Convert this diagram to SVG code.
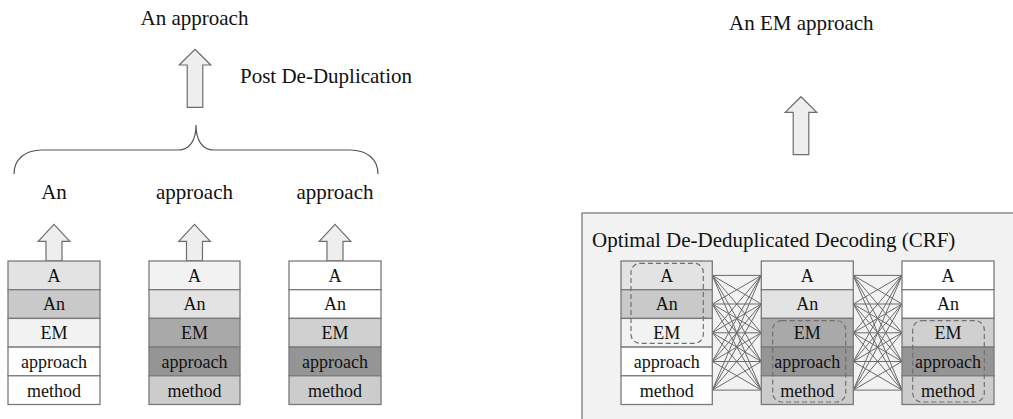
<svg xmlns="http://www.w3.org/2000/svg" width="1013" height="419" viewBox="0 0 1013 419">
  <style>
    text { font-family: "Liberation Serif", "Times New Roman", Tinos, "DejaVu Serif", "Noto Serif", serif; fill: #111; text-anchor: middle; }
    .big { font-size: 21px; }
    .cell { font-size: 18px; }
    .row { stroke: #7a7a7a; stroke-width: 1.3; }
    .arrow { fill: #eeeeee; stroke: #6e6e6e; stroke-width: 1.2; stroke-linejoin: miter; }
    .dash { fill: none; stroke: #707070; stroke-width: 1.2; stroke-dasharray: 5 3; }
    .link { stroke: #6a6a6a; stroke-width: 1; }
    .w { fill: #ffffff; } .g1 { fill: #f2f2f2; } .g2 { fill: #e3e3e3; } .g3 { fill: #c9c9c9; }
    .g4 { fill: #d0d0d0; } .g5 { fill: #a9a9a9; } .g6 { fill: #959595; } .g7 { fill: #cccccc; }
  </style>
  <defs>
    <!-- block arrow pointing up, origin at tip -->
    <path id="up" d="M0,0 L15.8,17 L8,17 L8,36.5 L-8,36.5 L-8,17 L-15.8,17 Z"/>
    <path id="upBig" d="M0,0 L15.8,15.7 L7.8,15.7 L7.8,58 L-7.8,58 L-7.8,15.7 L-15.8,15.7 Z"/>
  </defs>

  <rect width="1013" height="419" fill="#ffffff"/>

  <!-- left: post de-duplication -->
  <g id="left-output">
    <text class="big" x="194.5" y="25">An approach</text>
    <use href="#upBig" x="195" y="49.3" class="arrow"/>
    <text class="big" x="326" y="83">Post De-Duplication</text>
    <path d="M14,174 C14,160 24,150 42,150 L178,150 C190,150 196,140 196,125 C196,140 202,150 214,150 L350,150 C368,150 378,160 378,174" fill="none" stroke="#555" stroke-width="1.2"/>
    <text class="big" x="54" y="199">An</text>
    <text class="big" x="194.5" y="199">approach</text>
    <text class="big" x="335" y="199">approach</text>
  </g>

  <g id="left-stack-1">
    <use href="#up" x="54" y="224.3" class="arrow"/>
    <rect class="row g2" x="8" y="261" width="92" height="28.7"/>
    <rect class="row g3" x="8" y="289.7" width="92" height="28.7"/>
    <rect class="row g1" x="8" y="318.4" width="92" height="28.7"/>
    <rect class="row w" x="8" y="347.1" width="92" height="28.7"/>
    <rect class="row w" x="8" y="375.8" width="92" height="28.7"/>
    <text class="cell" x="54" y="281.7">A</text>
    <text class="cell" x="54" y="310.4">An</text>
    <text class="cell" x="54" y="339.1">EM</text>
    <text class="cell" x="54" y="367.8">approach</text>
    <text class="cell" x="54" y="396.5">method</text>
  </g>

  <g id="left-stack-2">
    <use href="#up" x="194.5" y="224.3" class="arrow"/>
    <rect class="row g1" x="149" y="261" width="91" height="28.7"/>
    <rect class="row g2" x="149" y="289.7" width="91" height="28.7"/>
    <rect class="row g5" x="149" y="318.4" width="91" height="28.7"/>
    <rect class="row g6" x="149" y="347.1" width="91" height="28.7"/>
    <rect class="row g7" x="149" y="375.8" width="91" height="28.7"/>
    <text class="cell" x="194.5" y="281.7">A</text>
    <text class="cell" x="194.5" y="310.4">An</text>
    <text class="cell" x="194.5" y="339.1">EM</text>
    <text class="cell" x="194.5" y="367.8">approach</text>
    <text class="cell" x="194.5" y="396.5">method</text>
  </g>

  <g id="left-stack-3">
    <use href="#up" x="335" y="224.3" class="arrow"/>
    <rect class="row w" x="289" y="261" width="92" height="28.7"/>
    <rect class="row w" x="289" y="289.7" width="92" height="28.7"/>
    <rect class="row g4" x="289" y="318.4" width="92" height="28.7"/>
    <rect class="row g6" x="289" y="347.1" width="92" height="28.7"/>
    <rect class="row g7" x="289" y="375.8" width="92" height="28.7"/>
    <text class="cell" x="335" y="281.7">A</text>
    <text class="cell" x="335" y="310.4">An</text>
    <text class="cell" x="335" y="339.1">EM</text>
    <text class="cell" x="335" y="367.8">approach</text>
    <text class="cell" x="335" y="396.5">method</text>
  </g>

  <!-- right: CRF decoding -->
  <g id="right-output">
    <text class="big" x="801.3" y="30">An EM approach</text>
    <use href="#upBig" x="801" y="96.7" class="arrow"/>
  </g>

  <g id="crf-panel">
    <rect x="582" y="213" width="440" height="220" fill="#f2f2f2" stroke="#7a7a7a" stroke-width="1.3"/>
    <text class="big" x="592" y="247" style="text-anchor:start">Optimal De-Deduplicated Decoding (CRF)</text>
  </g>

  <g id="connectors">
    <g id="links-1-2" class="link">
      <path d="M712.3,275.4 L761.3,275.4 M712.3,275.4 L761.3,304 M712.3,275.4 L761.3,332.8 M712.3,275.4 L761.3,361.5 M712.3,275.4 L761.3,390.1
               M712.3,304 L761.3,275.4 M712.3,304 L761.3,304 M712.3,304 L761.3,332.8 M712.3,304 L761.3,361.5 M712.3,304 L761.3,390.1
               M712.3,332.8 L761.3,275.4 M712.3,332.8 L761.3,304 M712.3,332.8 L761.3,332.8 M712.3,332.8 L761.3,361.5 M712.3,332.8 L761.3,390.1
               M712.3,361.5 L761.3,275.4 M712.3,361.5 L761.3,304 M712.3,361.5 L761.3,332.8 M712.3,361.5 L761.3,361.5 M712.3,361.5 L761.3,390.1
               M712.3,390.1 L761.3,275.4 M712.3,390.1 L761.3,304 M712.3,390.1 L761.3,332.8 M712.3,390.1 L761.3,361.5 M712.3,390.1 L761.3,390.1" fill="none"/>
    </g>
    <g id="links-2-3" class="link">
      <path d="M853.3,275.4 L902,275.4 M853.3,275.4 L902,304 M853.3,275.4 L902,332.8 M853.3,275.4 L902,361.5 M853.3,275.4 L902,390.1
               M853.3,304 L902,275.4 M853.3,304 L902,304 M853.3,304 L902,332.8 M853.3,304 L902,361.5 M853.3,304 L902,390.1
               M853.3,332.8 L902,275.4 M853.3,332.8 L902,304 M853.3,332.8 L902,332.8 M853.3,332.8 L902,361.5 M853.3,332.8 L902,390.1
               M853.3,361.5 L902,275.4 M853.3,361.5 L902,304 M853.3,361.5 L902,332.8 M853.3,361.5 L902,361.5 M853.3,361.5 L902,390.1
               M853.3,390.1 L902,275.4 M853.3,390.1 L902,304 M853.3,390.1 L902,332.8 M853.3,390.1 L902,361.5 M853.3,390.1 L902,390.1" fill="none"/>
    </g>
  </g>

  <g id="crf-stack-1">
    <rect class="row g2" x="621" y="261" width="91.3" height="28.7"/>
    <rect class="row g3" x="621" y="289.7" width="91.3" height="28.7"/>
    <rect class="row g1" x="621" y="318.4" width="91.3" height="28.7"/>
    <rect class="row w" x="621" y="347.1" width="91.3" height="28.7"/>
    <rect class="row w" x="621" y="375.8" width="91.3" height="28.7"/>
    <text class="cell" x="666.7" y="281.7">A</text>
    <text class="cell" x="666.7" y="310.4">An</text>
    <text class="cell" x="666.7" y="339.1">EM</text>
    <text class="cell" x="666.7" y="367.8">approach</text>
    <text class="cell" x="666.7" y="396.5">method</text>
    <rect class="dash" x="631" y="263.3" width="72.3" height="80" rx="9"/>
  </g>

  <g id="crf-stack-2">
    <rect class="row g1" x="761.3" y="261" width="92" height="28.7"/>
    <rect class="row g2" x="761.3" y="289.7" width="92" height="28.7"/>
    <rect class="row g5" x="761.3" y="318.4" width="92" height="28.7"/>
    <rect class="row g6" x="761.3" y="347.1" width="92" height="28.7"/>
    <rect class="row g7" x="761.3" y="375.8" width="92" height="28.7"/>
    <text class="cell" x="807.3" y="281.7">A</text>
    <text class="cell" x="807.3" y="310.4">An</text>
    <text class="cell" x="807.3" y="339.1">EM</text>
    <text class="cell" x="807.3" y="367.8">approach</text>
    <text class="cell" x="807.3" y="396.5">method</text>
    <rect class="dash" x="772.7" y="320.7" width="73" height="81.3" rx="9"/>
  </g>

  <g id="crf-stack-3">
    <rect class="row w" x="902" y="261" width="92" height="28.7"/>
    <rect class="row w" x="902" y="289.7" width="92" height="28.7"/>
    <rect class="row g4" x="902" y="318.4" width="92" height="28.7"/>
    <rect class="row g6" x="902" y="347.1" width="92" height="28.7"/>
    <rect class="row g7" x="902" y="375.8" width="92" height="28.7"/>
    <text class="cell" x="948" y="281.7">A</text>
    <text class="cell" x="948" y="310.4">An</text>
    <text class="cell" x="948" y="339.1">EM</text>
    <text class="cell" x="948" y="367.8">approach</text>
    <text class="cell" x="948" y="396.5">method</text>
    <rect class="dash" x="912.7" y="320.7" width="71.6" height="81.3" rx="9"/>
  </g>
</svg>
